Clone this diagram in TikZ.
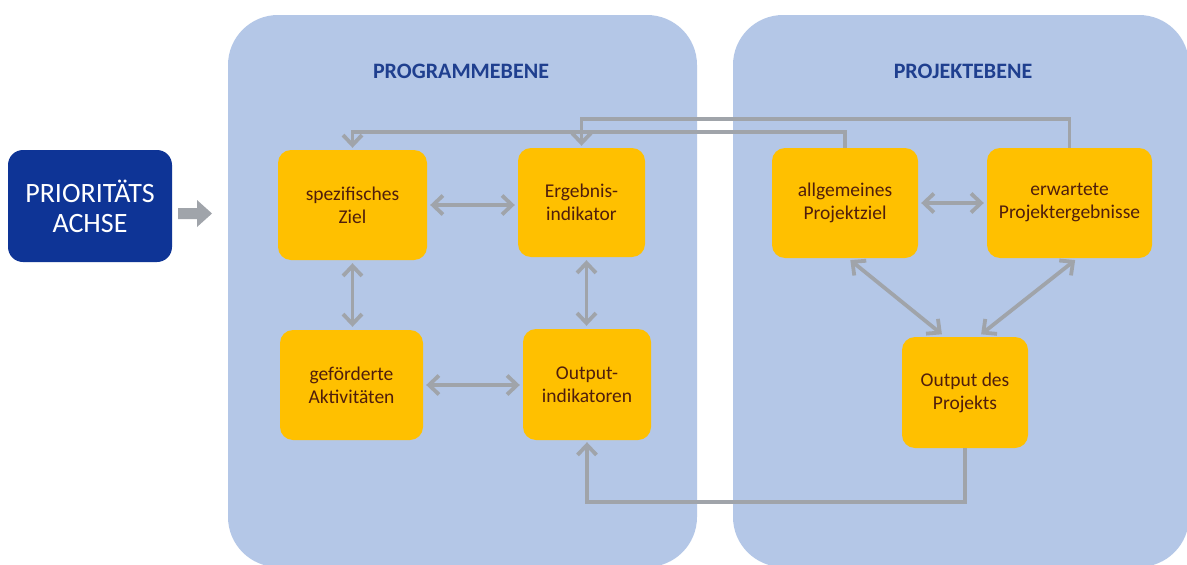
\documentclass[tikz,border=0pt]{standalone}
\usepackage{fontspec}
\setmainfont{Carlito}
\usetikzlibrary{arrows.meta,calc}
\definecolor{panelblue}{RGB}{180,199,231}
\definecolor{boxorange}{RGB}{255,192,0}
\definecolor{darkblue}{RGB}{14,52,150}
\definecolor{titleblue}{RGB}{31,63,143}
\definecolor{txtbrown}{RGB}{80,30,12}
\definecolor{linegrey}{RGB}{160,164,170}
\tikzset{
  panel/.style={fill=panelblue, draw=none, rounded corners=50pt},
  obox/.style={rectangle, fill=boxorange, draw=none, rounded corners=13pt, align=center,
    text=txtbrown, font=\fontsize{19.5}{23}\selectfont, inner sep=0pt},
  title/.style={text=titleblue, font=\fontsize{22}{26}\selectfont\bfseries},
  conn/.style={draw=linegrey, line width=3.8pt, >={Straight Barb[length=10pt,width=19pt]}},
}
\begin{document}
\begin{tikzpicture}[x=1pt,y=-1pt]
\useasboundingbox (0,0) rectangle (1187,565);
\fill[white] (0,0) rectangle (1187,565);
% panels
\fill[panel] (228,15) rectangle (697,567);
\fill[panel] (733,15) rectangle (1189,567);
\node[title] (t1) at (461,71) {PROGRAMMEBENE};
\node[title] (t2) at (963,71) {PROJEKTEBENE};
% priority box
\node[rectangle, fill=darkblue, rounded corners=15pt, minimum width=164pt, minimum height=112pt,
  text=white, align=center, font=\fontsize{28}{30}\selectfont, inner sep=0pt] (pa) at (90,206) {PRIORITÄTS\\ACHSE};
% block arrow
\fill[linegrey] (178,208) -- (197,208) -- (197,200) -- (212,213.5) -- (197,227) -- (197,219) -- (178,219) -- cycle;
% orange boxes
\node[obox, minimum width=149pt, minimum height=110pt] (sz) at (352.5,205) {spezifisches\\Ziel};
\node[obox, minimum width=127pt, minimum height=109pt] (ei) at (581.5,202.5) {Ergebnis-\\indikator};
\node[obox, minimum width=143pt, minimum height=110pt] (ga) at (351.5,385) {geförderte\\Aktivitäten};
\node[obox, minimum width=128pt, minimum height=111pt] (oi) at (587,384.5) {Output-\\indikatoren};
\node[obox, minimum width=146pt, minimum height=110pt] (ap) at (845,203) {allgemeines\\Projektziel};
\node[obox, minimum width=165pt, minimum height=110pt] (ep) at (1069.5,203) {erwartete\\Projektergebnisse};
\node[obox, minimum width=126pt, minimum height=111pt] (op) at (965,392.5) {Output des\\Projekts};
% double arrows
\draw[conn,<->,shorten <=3pt,shorten >=3pt] (sz.east) -- (sz.east -| ei.west);
\draw[conn,<->,shorten <=3pt,shorten >=3pt] (ga.east) -- (ga.east -| oi.west);
\draw[conn,<->,shorten <=3pt,shorten >=3pt] (sz.south) -- (sz.south |- ga.north);
\draw[conn,<->,shorten <=3pt,shorten >=3pt] ([xshift=5pt]ei.south) -- ([xshift=5pt]ei.south |- oi.north);
\draw[conn,<->,shorten <=3pt,shorten >=3pt] (ap.east) -- (ap.east -| ep.west);
\draw[conn,<->,shorten <=3pt,shorten >=4pt] ([xshift=3pt]ap.south) -- ([xshift=-20pt]op.north);
\draw[conn,<->,shorten <=3pt,shorten >=4pt] ([xshift=8pt]ep.south) -- ([xshift=13pt]op.north);
% long connectors
\draw[conn,->,shorten >=2pt] (ap.north) -- ++(0,-16) -| (sz.north);
\draw[conn,->,shorten >=2pt] (ep.north) -- ++(0,-29) -| (ei.north);
\draw[conn,->,shorten >=2pt] (op.south) -- ++(0,54) -| (oi.south);
\end{tikzpicture}
\end{document}
